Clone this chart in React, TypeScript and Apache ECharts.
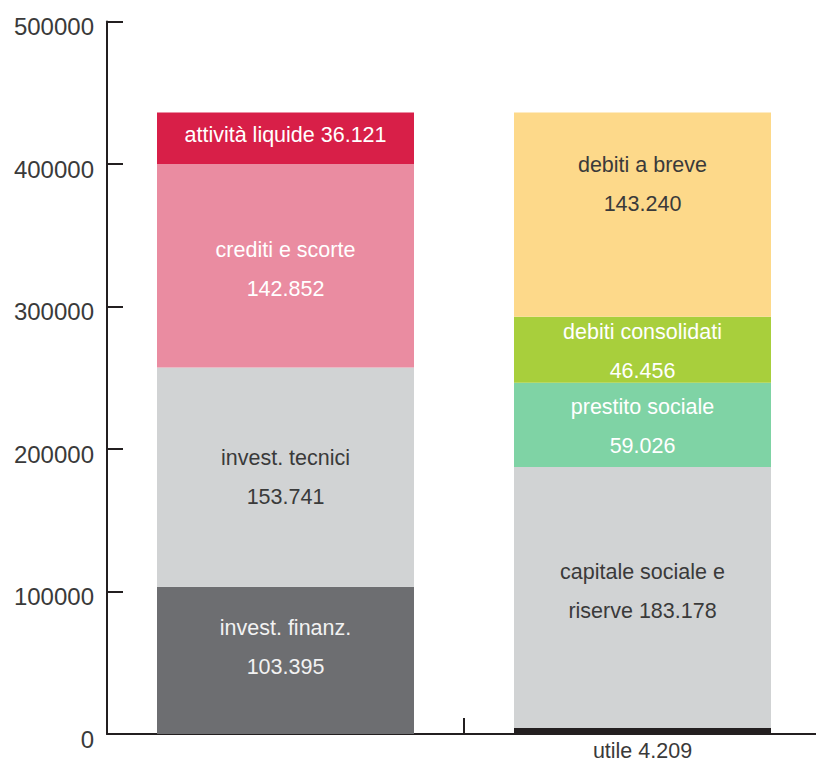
import React, { useEffect, useRef } from "react";
import * as echarts from "echarts";

// Attivo (left column), stacked bottom to top
const assetNames = ["invest. finanz.", "invest. tecnici", "crediti e scorte", "attività liquide"];
const assetValues = [103395, 153741, 142852, 36121];
const assetLabels = ["invest. finanz.\n{v}", "invest. tecnici\n{v}", "crediti e scorte\n{v}", "attività liquide {v}"];

// Passivo (right column), stacked bottom to top
const liabNames = ["utile", "capitale sociale e riserve", "prestito sociale", "debiti consolidati", "debiti a breve"];
const liabValues = [4209, 183178, 59026, 46456, 143240];
const liabLabels = ["", "capitale sociale e\nriserve {v}", "prestito sociale\n{v}", "debiti consolidati\n{v}", "debiti a breve\n{v}"];

// Value axis
const yMin = 0;
const yMax = 500000;
const yStep = 100000;

// Styling
const assetColors = ["#6d6e71", "#d1d3d4", "#ea8ca1", "#d81f48"];
const assetTextColors = ["#f2f2f2", "#3a3a3a", "#ffffff", "#ffffff"];
const assetOffsets = [-13, 0, 4, -3];
const liabColors = ["#231f20", "#d1d3d4", "#7fd3a5", "#a8cf3c", "#fdd98a"];
const liabTextColors = ["#ffffff", "#3a3a3a", "#ffffff", "#ffffff", "#3a3a3a"];
const liabOffsets = [0, -6, 2, 2, -30];

const FONT = "'Helvetica Neue', 'Liberation Sans', Arial, sans-serif";
const AXIS_COLOR = "#231f20";

const fmt = (v: number) => String(v).replace(/\B(?=(\d{3})+(?!\d))/g, ".");

export default function App() {
  const ref = useRef<HTMLDivElement>(null);

  useEffect(() => {
    if (!ref.current) return;
    const chart = echarts.init(ref.current, undefined, { renderer: "svg" });

    const utileIdx = liabNames.indexOf("utile");
    const categories = ["", `${liabNames[utileIdx]} ${fmt(liabValues[utileIdx])}`];

    const makeSeries = (
      names: string[],
      values: number[],
      labels: string[],
      colors: string[],
      textColors: string[],
      offsets: number[],
      col: number
    ) =>
      names.map((name, i) => ({
        name,
        type: "bar",
        stack: "bilancio",
        barWidth: 257,
        data: col === 0 ? [values[i], "-"] : ["-", values[i]],
        itemStyle: { color: colors[i] },
        label: {
          show: labels[i] !== "",
          position: "inside",
          offset: [0, offsets[i]],
          formatter: () => labels[i].replace("{v}", fmt(values[i])),
          color: textColors[i],
          fontFamily: FONT,
          fontSize: 21.5,
          lineHeight: 39,
          align: "center",
        },
        emphasis: { disabled: true },
      }));

    chart.setOption({
      animation: false,
      grid: { left: 107, right: 5, top: 21.5, bottom: 28, containLabel: false },
      xAxis: {
        type: "category",
        data: categories,
        boundaryGap: true,
        axisLine: { show: true, lineStyle: { color: AXIS_COLOR, width: 2 } },
        axisTick: { show: true, inside: true, length: 16, lineStyle: { color: AXIS_COLOR, width: 2 } },
        axisLabel: { color: "#3a3a3a", fontFamily: FONT, fontSize: 21.5, margin: 6 },
        splitLine: { show: false },
      },
      yAxis: {
        type: "value",
        min: yMin,
        max: yMax,
        interval: yStep,
        axisLine: { show: true, lineStyle: { color: AXIS_COLOR, width: 2 } },
        axisTick: { show: true, inside: true, length: 16, lineStyle: { color: AXIS_COLOR, width: 2 } },
        axisLabel: {
          margin: 13,
          formatter: (v: number) => `{t|${v}}`,
          rich: {
            t: {
              color: "#3a3a3a",
              fontFamily: FONT,
              fontSize: 24,
              padding: [10, 0, 0, 0],
            },
          },
        },
        splitLine: { show: false },
      },
      series: [
        ...makeSeries(assetNames, assetValues, assetLabels, assetColors, assetTextColors, assetOffsets, 0),
        ...makeSeries(liabNames, liabValues, liabLabels, liabColors, liabTextColors, liabOffsets, 1),
      ],
    });

    return () => chart.dispose();
  }, []);

  return (
    <div
      style={{
        position: "absolute",
        left: 0,
        top: 0,
        width: 816,
        height: 762,
        overflow: "hidden",
        background: "#ffffff",
      }}
    >
      <div ref={ref} style={{ width: 826, height: 762 }} />
    </div>
  );
}
